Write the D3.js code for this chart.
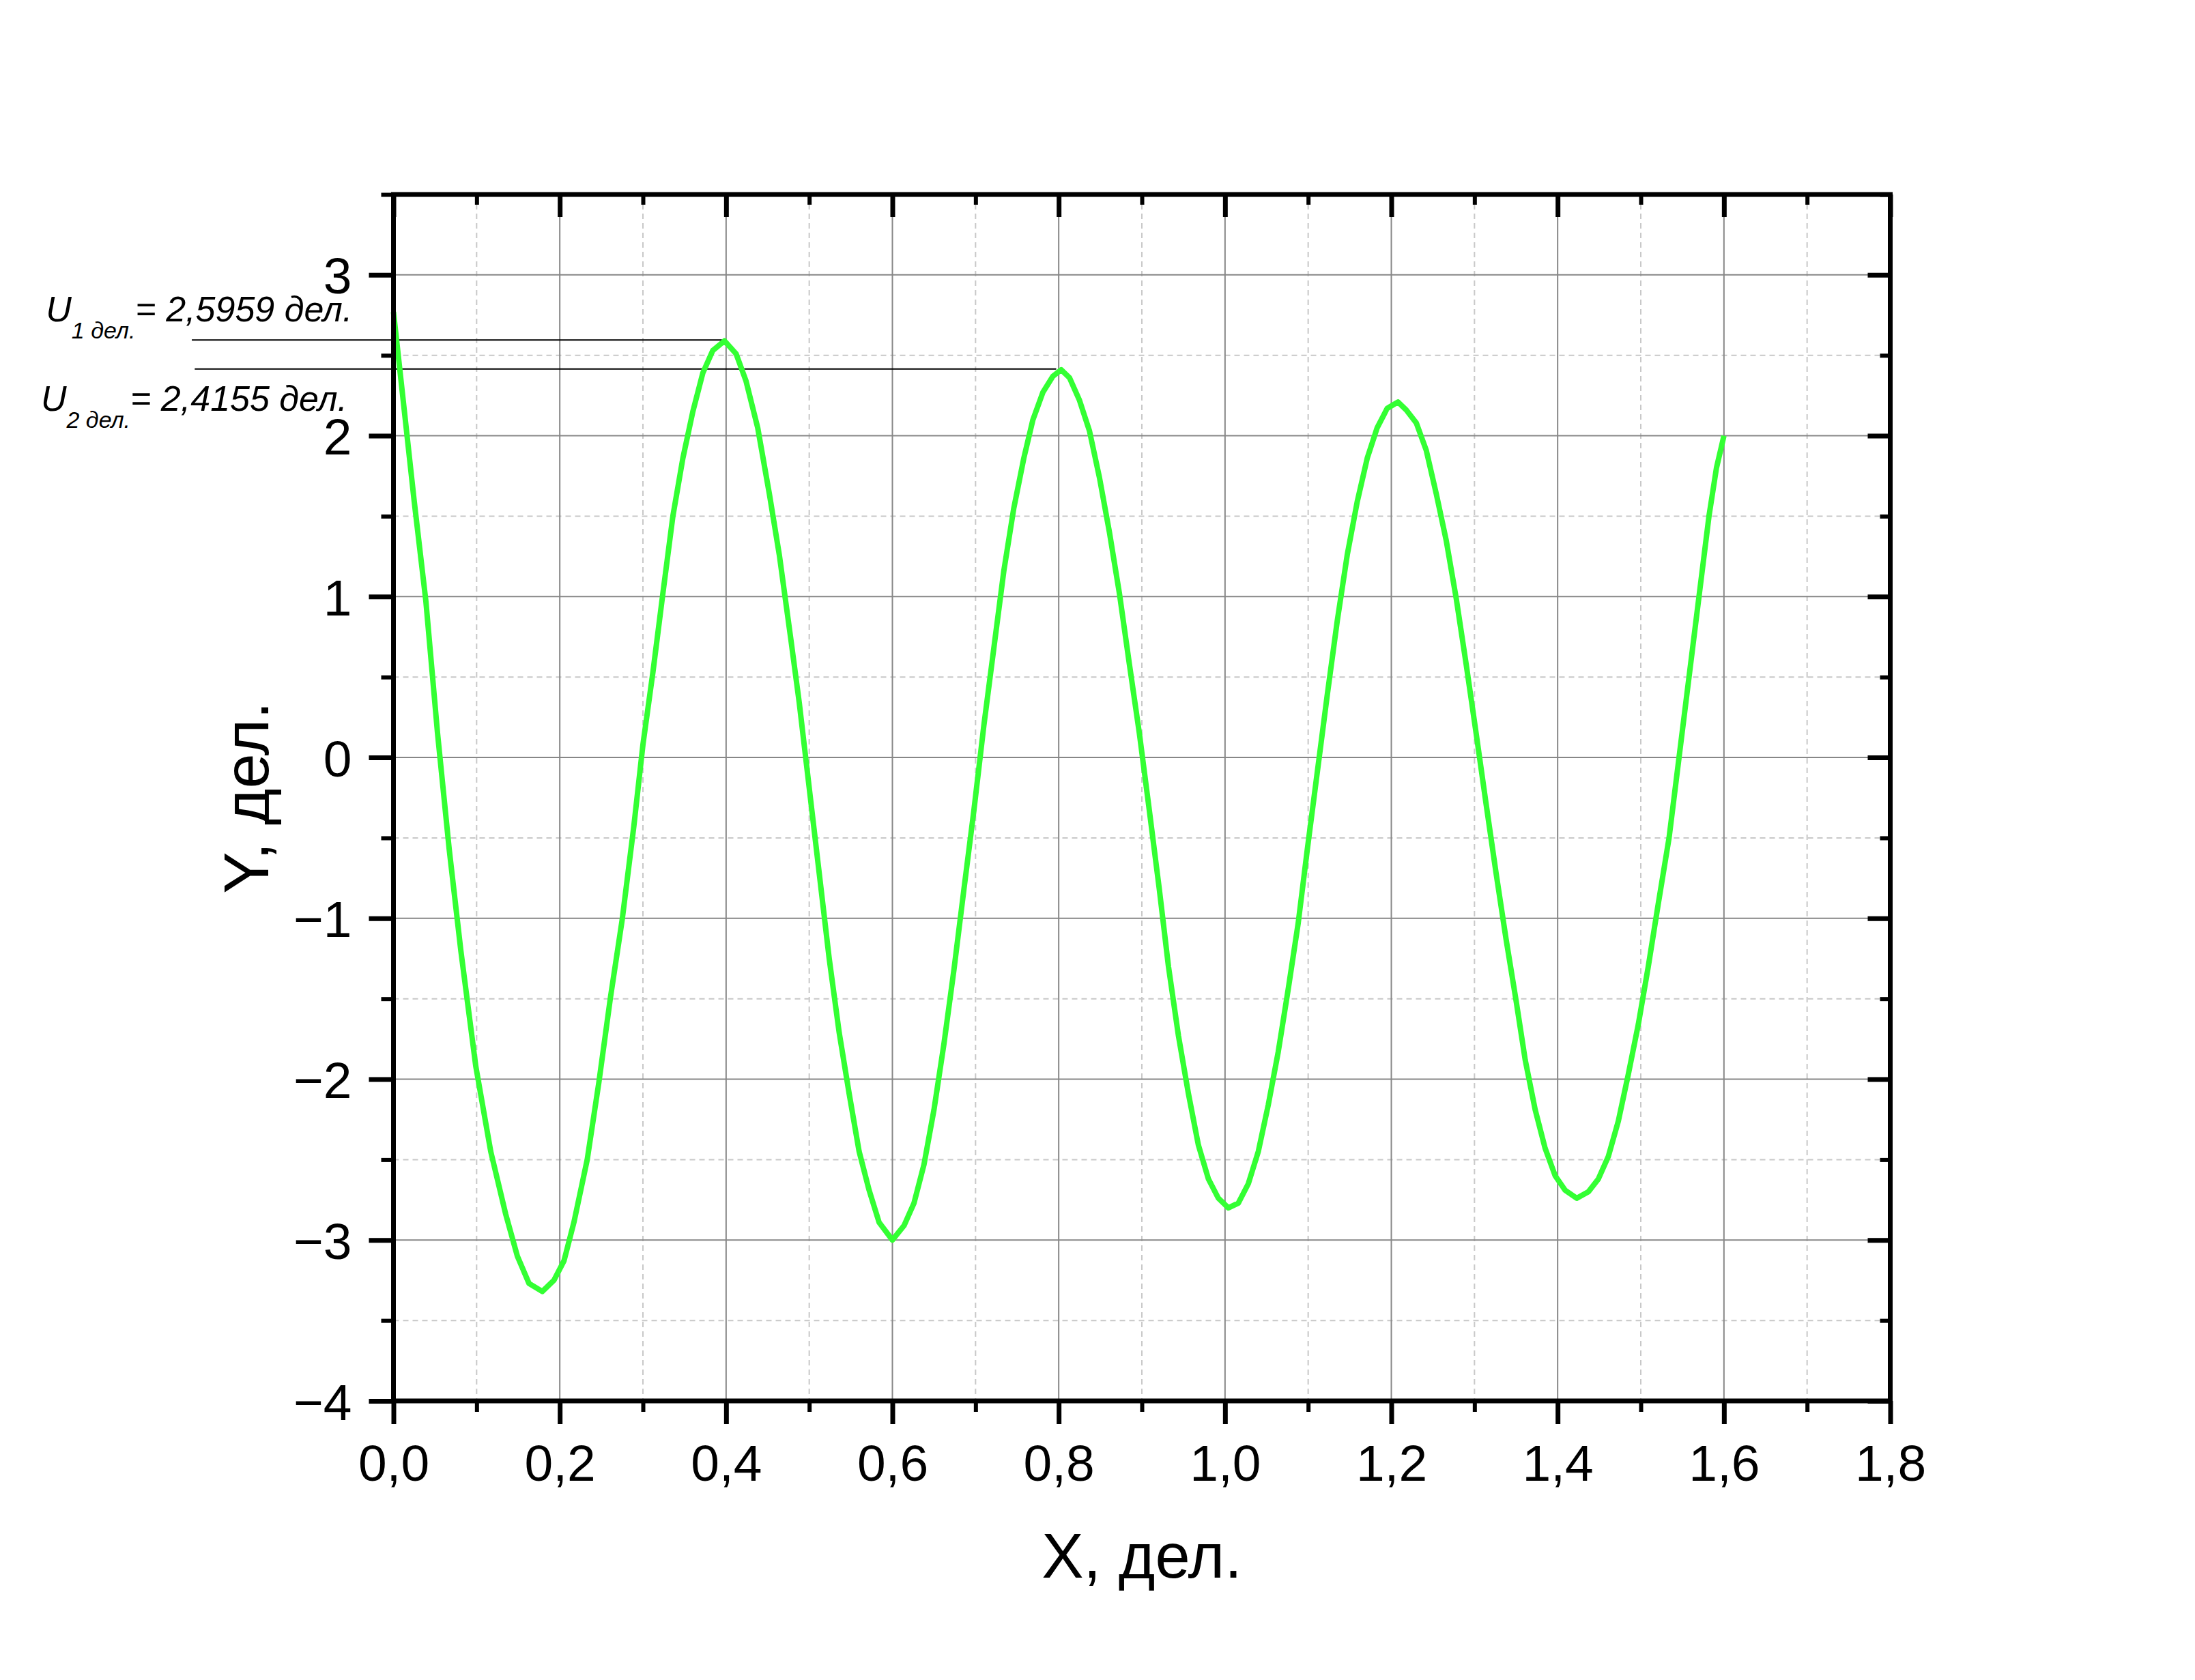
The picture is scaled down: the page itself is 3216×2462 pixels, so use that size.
<!DOCTYPE html>
<html><head><meta charset="utf-8">
<script src="https://cdn.jsdelivr.net/npm/d3@7"></script>
<style>
html,body{margin:0;padding:0;background:#fff}
text{font-family:"Liberation Sans",Arial,sans-serif}
</style>
</head><body>
<svg id="chart"></svg>
<script>
// ---- data ----
const xValues = [0.000,0.010,0.025,0.039,0.053,0.067,0.081,0.099,0.117,0.135,0.149,0.163,0.179,0.193,0.205,0.217,0.233,0.247,0.261,0.275,0.289,0.300,0.312,0.324,0.336,0.348,0.360,0.372,0.384,0.398,0.412,0.424,0.438,0.452,0.464,0.478,0.488,0.500,0.512,0.524,0.536,0.548,0.560,0.572,0.584,0.600,0.614,0.626,0.638,0.650,0.662,0.674,0.686,0.698,0.710,0.722,0.734,0.746,0.758,0.769,0.781,0.793,0.803,0.813,0.825,0.837,0.849,0.861,0.873,0.885,0.897,0.909,0.921,0.932,0.944,0.956,0.968,0.980,0.992,1.004,1.016,1.028,1.040,1.052,1.064,1.076,1.088,1.099,1.111,1.123,1.135,1.147,1.159,1.171,1.183,1.195,1.208,1.218,1.230,1.242,1.254,1.266,1.278,1.290,1.302,1.314,1.326,1.338,1.350,1.361,1.373,1.385,1.397,1.409,1.423,1.437,1.449,1.461,1.473,1.485,1.497,1.509,1.521,1.534,1.546,1.558,1.570,1.582,1.591,1.600];
const yValues = [2.77,2.30,1.59,0.97,0.15,-0.57,-1.20,-1.92,-2.45,-2.84,-3.10,-3.27,-3.32,-3.25,-3.13,-2.89,-2.50,-2.02,-1.49,-1.01,-0.43,0.08,0.53,1.02,1.50,1.86,2.15,2.39,2.53,2.59,2.51,2.34,2.05,1.64,1.26,0.73,0.34,-0.19,-0.72,-1.25,-1.71,-2.09,-2.45,-2.69,-2.89,-3.00,-2.91,-2.77,-2.53,-2.19,-1.78,-1.32,-0.82,-0.33,0.20,0.68,1.16,1.55,1.86,2.10,2.27,2.37,2.41,2.36,2.22,2.03,1.74,1.40,1.02,0.58,0.15,-0.33,-0.82,-1.30,-1.73,-2.09,-2.41,-2.62,-2.74,-2.80,-2.77,-2.65,-2.45,-2.16,-1.83,-1.44,-1.03,-0.57,-0.09,0.39,0.85,1.26,1.59,1.86,2.05,2.17,2.21,2.16,2.08,1.91,1.64,1.35,0.99,0.58,0.15,-0.29,-0.72,-1.13,-1.51,-1.88,-2.19,-2.43,-2.60,-2.69,-2.74,-2.70,-2.62,-2.48,-2.26,-1.97,-1.66,-1.30,-0.91,-0.50,0.00,0.50,1.00,1.50,1.80,2.00];

const xTicks = [0,0.2,0.4,0.6,0.8,1.0,1.2,1.4,1.6,1.8];
const xMinor = [0.1,0.3,0.5,0.7,0.9,1.1,1.3,1.5,1.7];
const yTicks = [-4,-3,-2,-1,0,1,2,3];
const yMinor = [-3.5,-2.5,-1.5,-0.5,0.5,1.5,2.5,3.5];

const annoSub = ["1 дел.", "2 дел."];
const annoValue = [2.5959, 2.4155];
const annoText = ["= 2,5959 дел.", "= 2,4155 дел."];
const annoLineStartX = [-0.2425, -0.239];
const annoLineEndX = [0.395, 0.797];
const annoTextX = [-0.418, -0.424];

const xTitle = "X, дел.";
const yTitle = "Y, дел.";

// ---- layout ----
const W = 3216, H = 2462;
const L = 576.5, R = 2769.5, T = 285, B = 2053;

const svg = d3.select("#chart").attr("width", W).attr("height", H)
  .style("display","block").style("background","#fff");

const x = d3.scaleLinear().domain([0, 1.8]).range([L, R]);
const y = d3.scaleLinear().domain([-4, 3.5]).range([B, T]);

const fmtX = d => d3.format(".1f")(d).replace(".", ",");
const fmtY = d3.format("d");

// grids
const g = svg.append("g");
g.selectAll(".minx").data(xMinor).join("line")
  .attr("x1", d => x(d)).attr("x2", d => x(d)).attr("y1", T).attr("y2", B)
  .attr("stroke", "#c8c8c8").attr("stroke-width", 2).attr("stroke-dasharray", "8,6");
g.selectAll(".miny").data(yMinor.filter(d => d < 3.5)).join("line")
  .attr("y1", d => y(d)).attr("y2", d => y(d)).attr("x1", L).attr("x2", R)
  .attr("stroke", "#c8c8c8").attr("stroke-width", 2).attr("stroke-dasharray", "8,6");
g.selectAll(".majx").data(xTicks.filter(d => d > 0 && d < 1.8)).join("line")
  .attr("x1", d => x(d)).attr("x2", d => x(d)).attr("y1", T).attr("y2", B)
  .attr("stroke", "#878787").attr("stroke-width", 2);
g.selectAll(".majy").data(yTicks.filter(d => d > -4)).join("line")
  .attr("y1", d => y(d)).attr("y2", d => y(d)).attr("x1", L).attr("x2", R)
  .attr("stroke", "#878787").attr("stroke-width", 2);

// annotation lines
svg.selectAll(".anl").data(annoValue).join("line")
  .attr("x1", (d,i) => x(annoLineStartX[i])).attr("x2", (d,i) => x(annoLineEndX[i]))
  .attr("y1", d => y(d)).attr("y2", d => y(d))
  .attr("stroke", "#000").attr("stroke-width", 2);

// curve
const pts = xValues.map((v,i) => [v, yValues[i]]);
svg.append("path").datum(pts)
  .attr("d", d3.line().x(d => x(d[0])).y(d => y(d[1])))
  .attr("fill", "none").attr("stroke", "#33ff33").attr("stroke-width", 8)
  .attr("stroke-linejoin", "round");

// axes
function styleAxis(sel, w, showText) {
  sel.select(".domain").remove();
  sel.selectAll(".tick line").attr("stroke", "#000").attr("stroke-width", w);
  if (!showText) sel.selectAll(".tick text").remove();
  else sel.selectAll(".tick text").attr("fill", "#000")
    .style("font-family", '"Liberation Sans", Arial, sans-serif').style("font-size", "75px");
}
const ax = svg.append("g").attr("transform", `translate(0,${B})`)
  .call(d3.axisBottom(x).tickValues(xTicks).tickSize(34).tickPadding(34).tickFormat(fmtX));
styleAxis(ax, 7, true);
ax.selectAll(".tick text").attr("dy", 0).attr("y", 117);
const axm = svg.append("g").attr("transform", `translate(0,${B})`)
  .call(d3.axisBottom(x).tickValues(xMinor).tickSize(16).tickFormat(""));
styleAxis(axm, 6, false);

const ay = svg.append("g").attr("transform", `translate(${L},0)`)
  .call(d3.axisLeft(y).tickValues(yTicks).tickSize(36).tickFormat(fmtY));
styleAxis(ay, 7, true);
ay.selectAll(".tick text").attr("x", -61).attr("dy", "0.36em");
const aym = svg.append("g").attr("transform", `translate(${L},0)`)
  .call(d3.axisLeft(y).tickValues(yMinor).tickSize(18).tickFormat(""));
styleAxis(aym, 6, false);

const at = svg.append("g").attr("transform", `translate(0,${T})`)
  .call(d3.axisTop(x).tickValues(xTicks).tickSize(-33).tickFormat(""));
styleAxis(at, 7, false);
const atm = svg.append("g").attr("transform", `translate(0,${T})`)
  .call(d3.axisTop(x).tickValues(xMinor).tickSize(-15).tickFormat(""));
styleAxis(atm, 6, false);

const ar = svg.append("g").attr("transform", `translate(${R},0)`)
  .call(d3.axisRight(y).tickValues(yTicks).tickSize(-33).tickFormat(""));
styleAxis(ar, 7, false);
const arm = svg.append("g").attr("transform", `translate(${R},0)`)
  .call(d3.axisRight(y).tickValues(yMinor).tickSize(-15).tickFormat(""));
styleAxis(arm, 6, false);

// frame
svg.append("rect").attr("x", L).attr("y", T).attr("width", R - L).attr("height", B - T)
  .attr("fill", "none").attr("stroke", "#000").attr("stroke-width", 7);

// axis titles
svg.append("text").attr("x", (L + R) / 2).attr("y", 2312).attr("text-anchor", "middle")
  .style("font-size", "92px").attr("fill", "#000").text(xTitle);
svg.append("text").attr("transform", `translate(393,${(T + B) / 2}) rotate(-90)`)
  .attr("text-anchor", "middle").style("font-size", "92px").attr("fill", "#000").text(yTitle);

// annotation texts
const offs = [-27, 61];
annoValue.forEach((v, i) => {
  const t = svg.append("text").attr("x", x(annoTextX[i])).attr("y", y(v) + offs[i])
    .style("font-style", "italic").style("font-size", "52px").attr("fill", "#000");
  t.append("tspan").text("U");
  t.append("tspan").attr("dy", 25).style("font-size", "34px").text(annoSub[i]);
  t.append("tspan").attr("dy", -25).text(annoText[i]);
});
</script>
</body></html>
